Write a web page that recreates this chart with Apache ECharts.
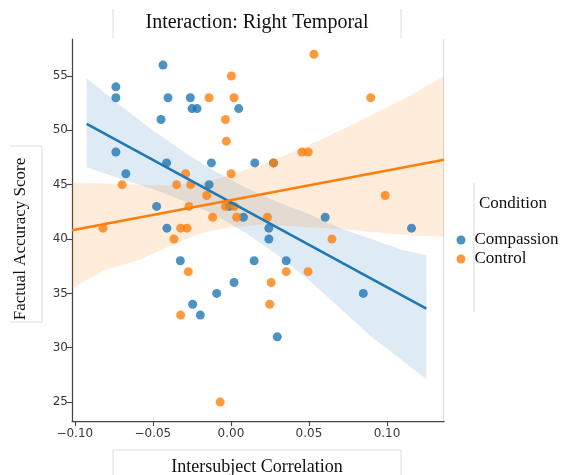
<!DOCTYPE html>
<html>
<head>
<meta charset="utf-8">
<script src="https://cdn.jsdelivr.net/npm/echarts@6/dist/echarts.min.js"></script>
<style>
  html, body { margin: 0; padding: 0; background: #fff; }
  #chart { width: 562px; height: 475px; }
</style>
</head>
<body>
<div id="chart"></div>
<script>
// Scatter values: [intersubject correlation, factual accuracy score]
const compassionPoints = [
  [-0.0435, 56], [-0.0737, 54], [-0.0737, 53], [-0.0403, 53], [-0.0260, 53],
  [-0.0249, 52], [-0.0217, 52], [0.0050, 52], [-0.0448, 51], [-0.0737, 48],
  [-0.0412, 47], [-0.0125, 47], [0.0153, 47], [0.0273, 47], [-0.0673, 46],
  [-0.0140, 45], [-0.0476, 43], [-0.0010, 43], [0.0080, 42], [0.0604, 42],
  [-0.0410, 41], [0.0243, 41], [0.1157, 41], [0.0243, 40], [-0.0324, 38],
  [0.0149, 38], [0.0354, 38], [0.0020, 36], [-0.0091, 35], [0.0848, 35],
  [-0.0245, 34], [-0.0196, 33], [0.0297, 31]
];
const controlPoints = [
  [0.0532, 57], [0.0003, 55], [-0.0140, 53], [0.0020, 53], [0.0896, 53],
  [-0.0035, 51], [-0.0029, 49], [0.0455, 48], [0.0495, 48], [0.0273, 47],
  [-0.0290, 46], [0.0001, 46], [-0.0697, 45], [-0.0348, 45], [-0.0258, 45],
  [-0.0155, 44], [0.0988, 44], [-0.0269, 43], [-0.0035, 43], [0.0022, 43],
  [-0.0117, 42], [0.0037, 42], [0.0234, 42], [-0.0819, 41], [-0.0322, 41],
  [-0.0281, 41], [-0.0365, 40], [0.0647, 40], [-0.0273, 37], [0.0354, 37],
  [0.0494, 37], [0.0258, 36], [0.0249, 34], [-0.0322, 33], [-0.0069, 25]
];

// Regression fits (end points) and 95% confidence bands
const compassionFit = [[-0.0924, 50.6], [0.1252, 33.6]];
const controlFit = [[-0.1018, 40.8], [0.1365, 47.3]];

const compassionBandX = [-0.0924, -0.07, -0.05, -0.03, -0.01, 0.01, 0.03, 0.05, 0.07, 0.09, 0.11, 0.1252];
const compassionBandHigh = [54.8, 52.2, 50.0, 48.0, 46.2, 44.7, 43.4, 42.3, 41.0, 40.0, 39.0, 38.5];
const compassionBandLow = [46.6, 45.5, 44.6, 43.5, 42.2, 40.5, 38.5, 36.2, 33.6, 31.0, 28.8, 27.1];

const controlBandX = [-0.1018, -0.08, -0.06, -0.04, -0.02, 0.0, 0.02, 0.04, 0.06, 0.08, 0.10, 0.12, 0.1365];
const controlBandHigh = [45.2, 45.1, 45.0, 44.9, 45.1, 45.9, 46.9, 48.0, 49.3, 50.7, 52.1, 53.6, 55.0];
const controlBandLow = [35.5, 37.2, 38.0, 39.3, 40.5, 41.1, 41.3, 41.2, 41.0, 40.8, 40.5, 40.3, 40.2];

// Tick positions and their labels
const xTicks = [-0.10, -0.05, 0.00, 0.05, 0.10];
const xTickLabels = ['\u22120.10', '\u22120.05', '0.00', '0.05', '0.10'];
const yTicks = [25, 30, 35, 40, 45, 50, 55];
const yTickLabels = ['25', '30', '35', '40', '45', '50', '55'];

const conditionNames = ['Compassion', 'Control'];
const BLUE = '#1f77b4';
const ORANGE = '#ff7f0e';

function tickLabel(ticks, labels) {
  return function (v) {
    for (let i = 0; i < ticks.length; i++) {
      if (Math.abs(ticks[i] - v) < 1e-9) return labels[i];
    }
    return '';
  };
}

function bandSeries(xs, lo, hi, color) {
  return {
    type: 'custom',
    coordinateSystem: 'cartesian2d',
    silent: true,
    clip: true,
    data: [[xs[0], lo[0]]],
    renderItem: function (params, api) {
      const pts = [];
      for (let i = 0; i < xs.length; i++) pts.push(api.coord([xs[i], hi[i]]));
      for (let i = xs.length - 1; i >= 0; i--) pts.push(api.coord([xs[i], lo[i]]));
      return {
        type: 'polygon',
        shape: { points: pts },
        style: { fill: color, opacity: 0.15 }
      };
    }
  };
}

function scatterSeries(name, pts, color) {
  return {
    name: name,
    type: 'scatter',
    data: pts,
    symbol: 'circle',
    symbolSize: 9,
    itemStyle: { color: color, opacity: 0.8 },
    silent: true
  };
}

function fitSeries(pts, color) {
  return {
    type: 'line',
    data: pts,
    symbol: 'none',
    silent: true,
    lineStyle: { color: color, width: 2.6 }
  };
}

const axisColor = '#444';
const tickFont = { fontFamily: 'DejaVu Sans', fontSize: 12, color: '#383838' };
const serif = 'Liberation Serif';
const frameLine = { stroke: '#dcdcdc', lineWidth: 1 };

function hline(x1, x2, y) {
  return { type: 'line', shape: { x1: x1, y1: y, x2: x2, y2: y }, style: frameLine, silent: true };
}
function vline(x, y1, y2) {
  return { type: 'line', shape: { x1: x, y1: y1, x2: x, y2: y2 }, style: frameLine, silent: true };
}

const chart = echarts.init(document.getElementById('chart'), null, { renderer: 'canvas' });
chart.setOption({
  animation: false,
  backgroundColor: '#fff',
  grid: { left: 72, right: 118, top: 39, bottom: 54, containLabel: false },
  xAxis: {
    type: 'value',
    min: -0.1018,
    max: 0.1365,
    splitLine: { show: false },
    axisLine: { onZero: false, lineStyle: { color: axisColor, width: 1.25 } },
    axisTick: { show: true, inside: false, length: 5, customValues: xTicks, lineStyle: { color: axisColor, width: 1.1 } },
    axisLabel: Object.assign({ customValues: xTicks, margin: 7, formatter: tickLabel(xTicks, xTickLabels) }, tickFont)
  },
  yAxis: {
    type: 'value',
    min: 23.26,
    max: 58.4,
    splitLine: { show: false },
    axisLine: { onZero: false, lineStyle: { color: axisColor, width: 1.25 } },
    axisTick: { show: true, inside: false, length: 5, customValues: yTicks, lineStyle: { color: axisColor, width: 1.1 } },
    axisLabel: Object.assign({ customValues: yTicks, margin: 4, formatter: tickLabel(yTicks, yTickLabels) }, tickFont)
  },
  legend: {
    data: conditionNames,
    orient: 'vertical',
    left: 456.5,
    top: 230.5,
    padding: 0,
    itemWidth: 9,
    itemHeight: 9,
    itemGap: 0,
    icon: 'circle',
    textStyle: { fontFamily: serif, fontSize: 17, color: '#111', lineHeight: 19, padding: [0, 0, 0, 4] },
    selectedMode: false
  },
  series: [
    scatterSeries(conditionNames[0], compassionPoints, BLUE),
    bandSeries(compassionBandX, compassionBandLow, compassionBandHigh, BLUE),
    scatterSeries(conditionNames[1], controlPoints, ORANGE),
    bandSeries(controlBandX, controlBandLow, controlBandHigh, ORANGE),
    fitSeries(compassionFit, BLUE),
    fitSeries(controlFit, ORANGE)
  ],
  graphic: [
    // title panel
    vline(113, 9, 38), vline(401, 9, 38),
    { type: 'text', x: 257, y: 23, silent: true,
      style: { text: 'Interaction: Right Temporal', font: '20px "Liberation Serif"', fill: '#111', align: 'center', verticalAlign: 'middle' } },
    // right edge of the plot panel
    vline(443.5, 39, 421),
    // x axis title panel
    hline(113, 401, 450), vline(113, 450, 475), vline(401, 450, 475),
    { type: 'text', x: 257, y: 467, silent: true,
      style: { text: 'Intersubject Correlation', font: '18px "Liberation Serif"', fill: '#111', align: 'center', verticalAlign: 'middle' } },
    // y axis title panel
    hline(10, 42, 146), vline(42, 146, 322), hline(10, 42, 322),
    { type: 'text', x: 21, y: 239, rotation: Math.PI / 2, silent: true,
      style: { text: 'Factual Accuracy Score', font: '17px "Liberation Serif"', fill: '#111', align: 'center', verticalAlign: 'middle' } },
    // legend panel
    vline(474, 183, 312),
    { type: 'text', x: 513, y: 204, silent: true,
      style: { text: 'Condition', font: '17px "Liberation Serif"', fill: '#111', align: 'center', verticalAlign: 'middle' } }
  ]
});
</script>
</body>
</html>
